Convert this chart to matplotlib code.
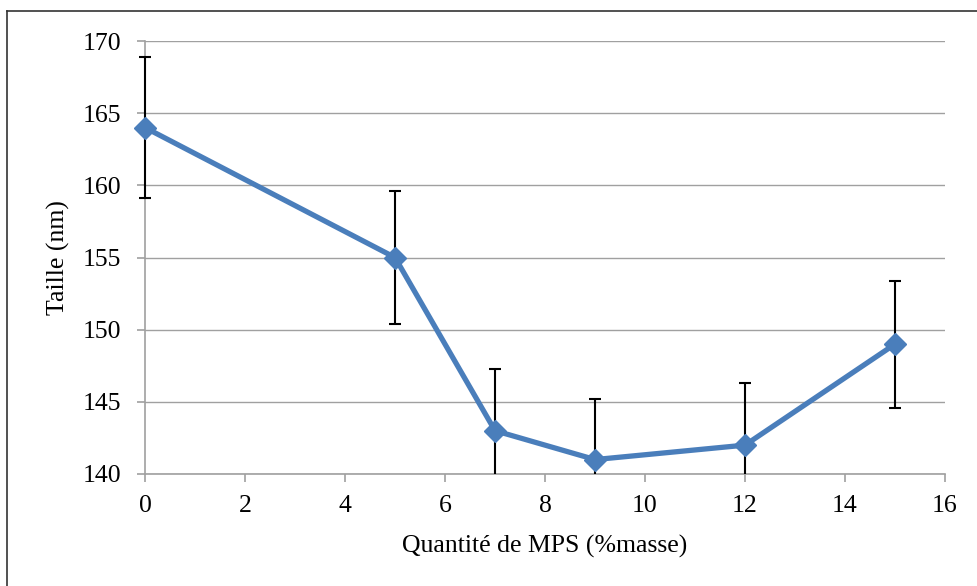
import matplotlib.pyplot as plt
from matplotlib.lines import Line2D
from matplotlib.patches import Rectangle

plt.rcParams['font.family'] = ['Liberation Serif', 'DejaVu Serif']

# data
mps = [0, 5, 7, 9, 12, 15]
taille = [164, 155, 143, 141, 142, 149]
err = [4.9, 4.6, 4.3, 4.2, 4.3, 4.4]
xticks = [0, 2, 4, 6, 8, 10, 12, 14, 16]
yticks = [140, 145, 150, 155, 160, 165, 170]

fig = plt.figure(figsize=(9.78, 5.86), dpi=100)
ax = fig.add_axes([145/978, 1-474/586, 800/978, 433/586])

# let marks spill over the left edge but stay cut at the bottom axis
clip = Rectangle((-0.05, 0), 1.1, 1.1, transform=ax.transAxes)

eb = ax.errorbar(mps, taille, yerr=err, fmt='none', ecolor='black', elinewidth=1.5,
                 capsize=4.5, capthick=1.5, zorder=3)
for a in eb.lines[1] + eb.lines[2]:
    a.set_clip_path(clip)
ln, = ax.plot(mps, taille, color='#4a7ebb', lw=3.8, marker='D', markersize=11,
              markerfacecolor='#4a7ebb', markeredgecolor='#4a7ebb', zorder=4)
ln.set_clip_path(clip)

ax.set_xlim(0, 16)
ax.set_ylim(140, 170)
ax.set_xticks(xticks)
ax.set_yticks(yticks)
ax.yaxis.grid(True, color='#a0a0a0', lw=1)
ax.set_axisbelow(True)
for s in ['top', 'right']:
    ax.spines[s].set_visible(False)
for s in ['left', 'bottom']:
    ax.spines[s].set_color('#a0a0a0')
    ax.spines[s].set_linewidth(1.2)
ax.tick_params(axis='both', direction='out', length=6, width=1.2, color='#a0a0a0',
               labelsize=18.5)
ax.tick_params(axis='x', pad=9)
ax.tick_params(axis='y', pad=11)

ax.set_xlabel('Quantité de MPS (%masse)', fontsize=18.5, labelpad=13)
ax.set_ylabel('Taille (nm)', fontsize=18.5, labelpad=9)

# outer chart frame
fig.add_artist(Line2D([7/978, 7/978], [0, 1-11/586], color='#333333', lw=1.2))
fig.add_artist(Line2D([7/978, 1], [1-11/586, 1-11/586], color='#333333', lw=1.2))

fig.savefig('out.png', dpi=100)
